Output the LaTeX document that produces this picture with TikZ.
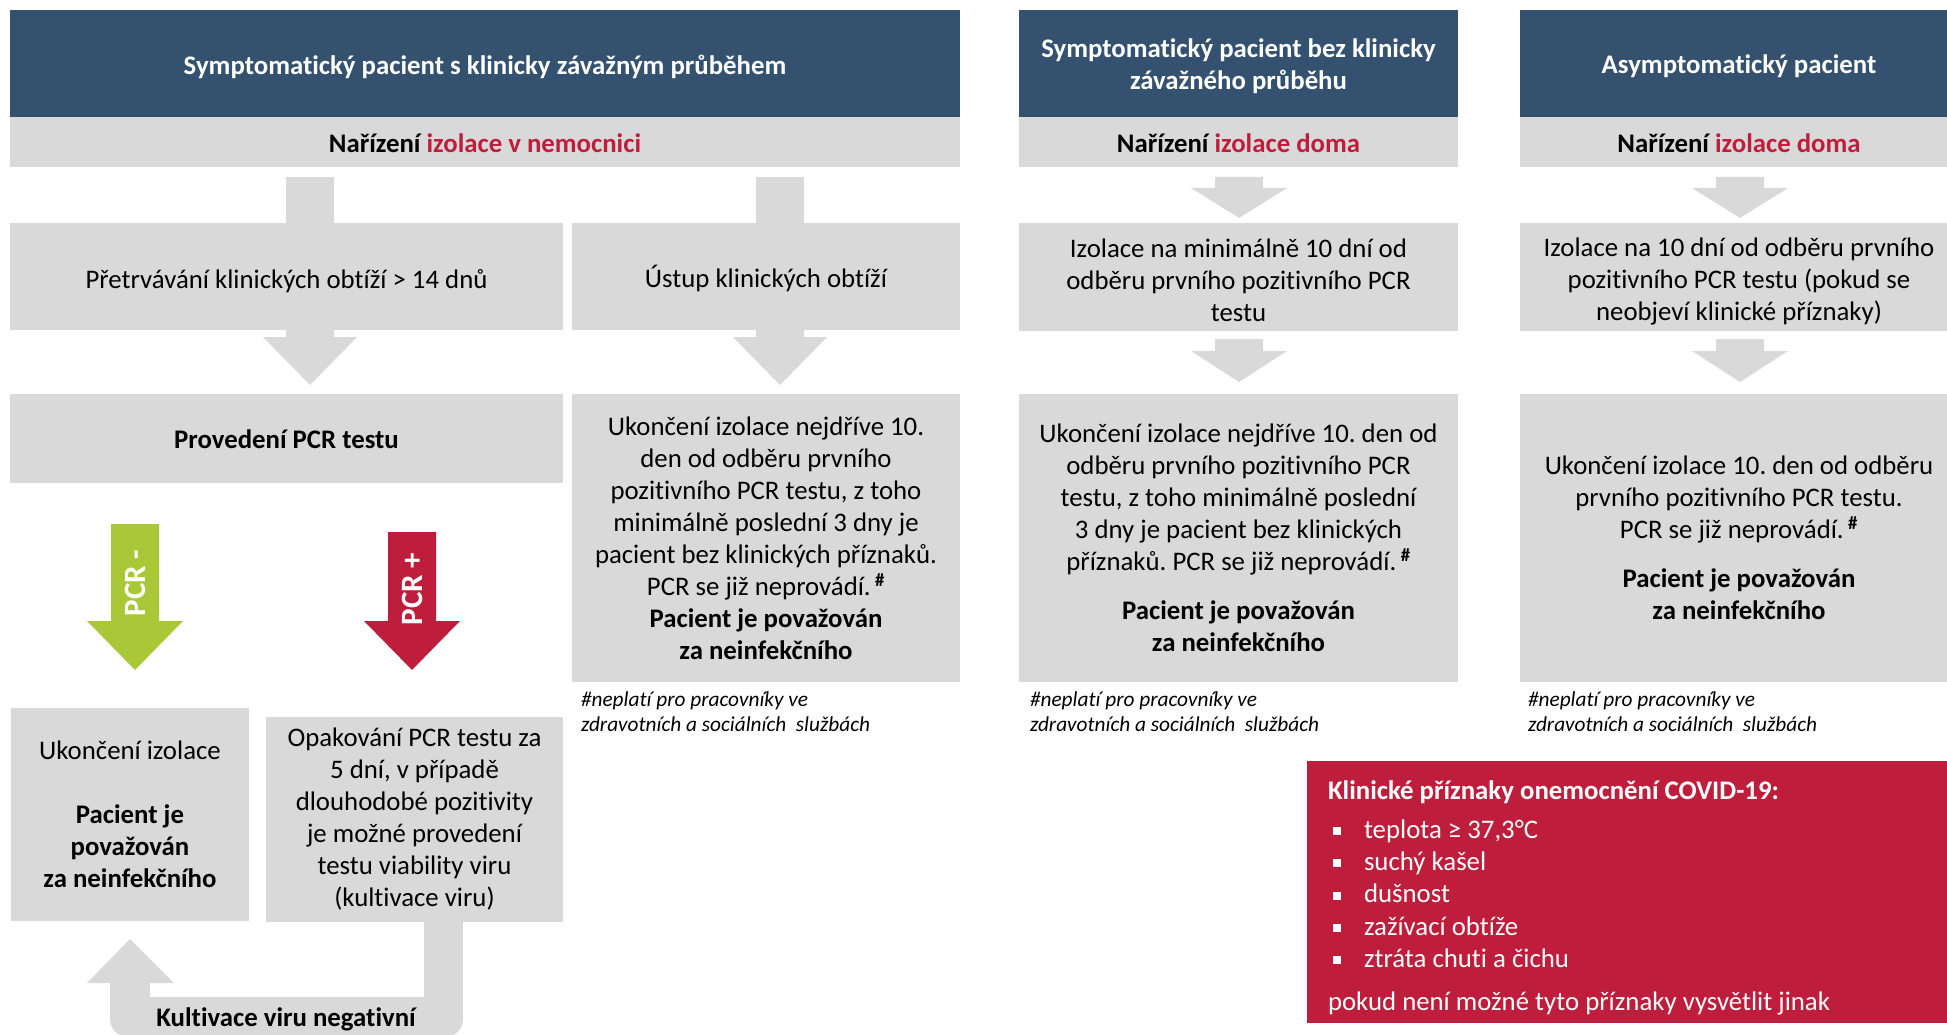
\documentclass[tikz,border=0pt]{standalone}
\usepackage{fontspec}
\setmainfont{Carlito}[Ligatures=NoCommon]
\frenchspacing
\definecolor{hdrblue}{RGB}{52,81,112}
\definecolor{lgrey}{RGB}{217,217,217}
\definecolor{cred}{RGB}{190,30,60}
\definecolor{cgreen}{RGB}{168,200,55}
\newcommand\blkarrow[7]{% x, ytop, ybase, ytip, stem half, head half, colour
  \fill[#7] (#1-#5,#2) -- (#1+#5,#2) -- (#1+#5,#3) -- (#1+#6,#3) -- (#1,#4) -- (#1-#6,#3) -- (#1-#5,#3) -- cycle;}
\newcommand\sqbul{\raisebox{3pt}{\rule{8pt}{8pt}}}
\newcommand\hsh{\,\textsuperscript{\bfseries\#}}
\begin{document}
\begin{tikzpicture}[x=1pt,y=-1pt,
  every node/.style={inner sep=0pt, outer sep=0pt},
  txt/.style={font=\fontsize{26.8}{32}\selectfont, align=center},
  btxt/.style={font=\fontsize{26.8}{32}\selectfont\bfseries, align=center},
  hdr/.style={fill=hdrblue},
  bar/.style={fill=lgrey},
  gbox/.style={fill=lgrey},
  foot/.style={font=\fontsize{21.3}{25}\selectfont\itshape, align=left, anchor=west},
  pcr/.style={text=white, font=\fontsize{31}{34}\selectfont\bfseries, rotate=90}
]
\useasboundingbox (0,0) rectangle (1947,1035);

% ---------- headers ----------
\node[hdr, minimum width=950pt, minimum height=107pt] (h1) at (485,63.5) {};
\node[btxt, text=white] (h1t) at ([yshift=-3pt]h1.center) {Symptomatický pacient s klinicky závažným průběhem};
\node[bar, minimum width=950pt, minimum height=50pt] (b1) at (485,142) {};
\node[btxt] (b1t) at ([yshift=-1pt]b1.center) {Nařízení \textcolor{cred}{izolace v nemocnici}};

\node[hdr, minimum width=439pt, minimum height=107pt] (h2) at (1238.5,63.5) {};
\node[btxt, text=white] (h2t) at ([yshift=-3pt]h2.center) {Symptomatický pacient bez klinicky\\závažného průběhu};
\node[bar, minimum width=439pt, minimum height=50pt] (b2) at (1238.5,142) {};
\node[btxt] (b2t) at ([yshift=-1pt]b2.center) {Nařízení \textcolor{cred}{izolace doma}};

\node[hdr, minimum width=438pt, minimum height=107pt] (h3) at (1739,63.5) {};
\node[btxt, text=white] (h3t) at ([yshift=-3pt]h3.center) {Asymptomatický pacient};
\node[bar, minimum width=438pt, minimum height=50pt] (b3) at (1739,142) {};
\node[btxt] (b3t) at ([yshift=-1pt]b3.center) {Nařízení \textcolor{cred}{izolace doma}};

% ---------- column 1 ----------
\fill[lgrey] (286,177) rectangle (334,224);
\fill[lgrey] (756,177) rectangle (804,224);
\node[gbox, minimum width=553pt, minimum height=107pt] (A) at (286.5,276.5) {};
\node[txt] (At) at ([yshift=-5pt]A.center) {Přetrvávání klinických obtíží > 14 dnů};
\node[gbox, minimum width=388pt, minimum height=107pt] (B) at (766,276.5) {};
\node[txt] (Bt) at ([yshift=-2pt]B.center) {Ústup klinických obtíží};
\blkarrow{310}{330}{337}{385}{24}{47}{lgrey}
\blkarrow{780}{330}{337}{385}{24}{47}{lgrey}
\node[gbox, minimum width=553pt, minimum height=89pt] (C) at (286.5,438.5) {};
\node[btxt] (Ct) at ([yshift=-1pt]C.center) {Provedení PCR testu};
\node[gbox, minimum width=388pt, minimum height=288pt] (D) at (766,538) {};
\node[txt] (Dt) at (D.center) {Ukončení izolace nejdříve 10.\\den od odběru prvního\\pozitivního PCR testu, z toho\\minimálně poslední 3 dny je\\pacient bez klinických příznaků.\\PCR se již neprovádí.\hsh\\\textbf{Pacient je považován}\\\textbf{za neinfekčního}};
\node[foot] (fD) at (581,712) {\#neplatí pro pracovníky ve\\zdravotních a sociálních\ \ službách};

% PCR arrows
\blkarrow{135}{524}{621}{670}{24}{48}{cgreen}
\node[pcr] (pm) at (135,583) {PCR -};
\blkarrow{412}{532}{621}{670}{24}{48}{cred}
\node[pcr] (pp) at (412,589) {PCR +};

\node[gbox, minimum width=238pt, minimum height=213pt] (E) at (130,814.5) {};
\node[txt] (Et) at (E.center) {Ukončení izolace\\[32pt]\textbf{Pacient je}\\\textbf{považován}\\\textbf{za neinfekčního}};
\node[gbox, minimum width=297pt, minimum height=205pt] (F) at (414.5,819.5) {};
\node[txt] (Ft) at (F.center) {Opakování PCR testu za\\5 dní, v případě\\dlouhodobé pozitivity\\je možné provedení\\testu viability viru\\(kultivace viru)};

% U-turn arrow from F back to E
\fill[lgrey, rounded corners=18pt] (110,997) rectangle (463,1037);
\fill[lgrey] (F.south -| 424,0) rectangle (463,1015);
\fill[lgrey] (110,982) rectangle (150,1015);
\fill[lgrey] (87,983) -- (130,939) -- (174,983) -- cycle;
\node[btxt] (kv) at (286,1019) {Kultivace viru negativní};

% ---------- column 2 ----------
\blkarrow{1239}{177}{188}{218}{24}{48}{lgrey}
\node[gbox, minimum width=439pt, minimum height=108pt] (G) at (1238.5,277) {};
\node[txt] (Gt) at ([yshift=-3pt]G.center) {Izolace na minimálně 10 dní od\\odběru prvního pozitivního PCR\\testu};
\blkarrow{1239}{339}{351}{382}{24}{48}{lgrey}
\node[gbox, minimum width=439pt, minimum height=288pt] (H) at (1238.5,538) {};
\node[txt] (Ht) at (H.center) {Ukončení izolace nejdříve 10. den od\\odběru prvního pozitivního PCR\\testu, z toho minimálně poslední\\3 dny je pacient bez klinických\\příznaků. PCR se již neprovádí.\hsh\\[17pt]\textbf{Pacient je považován}\\\textbf{za neinfekčního}};
\node[foot] (fH) at (1030,712) {\#neplatí pro pracovníky ve\\zdravotních a sociálních\ \ službách};

% ---------- column 3 ----------
\blkarrow{1740}{177}{188}{218}{24}{48}{lgrey}
\node[gbox, minimum width=438pt, minimum height=108pt] (I) at (1739,277) {};
\node[txt] (It) at ([yshift=-4pt]I.center) {Izolace na 10 dní od odběru prvního\\pozitivního PCR testu (pokud se\\neobjeví klinické příznaky)};
\blkarrow{1740}{339}{351}{382}{24}{48}{lgrey}
\node[gbox, minimum width=438pt, minimum height=288pt] (J) at (1739,538) {};
\node[txt] (Jt) at (J.center) {Ukončení izolace 10. den od odběru\\prvního pozitivního PCR testu.\\PCR se již neprovádí.\hsh\\[17pt]\textbf{Pacient je považován}\\\textbf{za neinfekčního}};
\node[foot] (fJ) at (1528,712) {\#neplatí pro pracovníky ve\\zdravotních a sociálních\ \ službách};

% ---------- symptoms box ----------
\node[fill=cred, minimum width=651pt, minimum height=262pt] (K) at (1632.5,892) {};
\node[text=white, font=\fontsize{26.8}{32.3}\selectfont, align=left, anchor=north west] (Kt) at (1328,781)
 {\textbf{Klinické příznaky onemocnění COVID-19:}\\[6pt]
  \hspace*{5pt}\makebox[31pt][l]{\sqbul}teplota ≥ 37,3°C\\
  \hspace*{5pt}\makebox[31pt][l]{\sqbul}suchý kašel\\
  \hspace*{5pt}\makebox[31pt][l]{\sqbul}dušnost\\
  \hspace*{5pt}\makebox[31pt][l]{\sqbul}zažívací obtíže\\
  \hspace*{5pt}\makebox[31pt][l]{\sqbul}ztráta chuti a čichu\\[11pt]
  pokud není možné tyto příznaky vysvětlit jinak};
\end{tikzpicture}
\end{document}
